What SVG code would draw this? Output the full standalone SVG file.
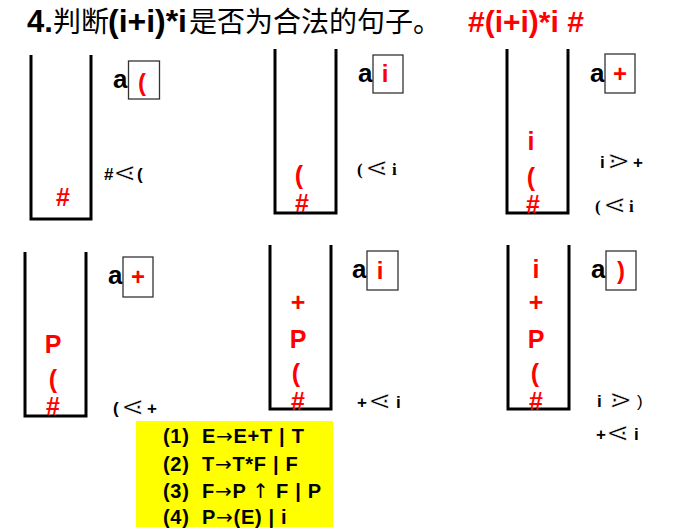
<svg xmlns="http://www.w3.org/2000/svg" width="687" height="530" viewBox="0 0 687 530">
<style>
.bg{fill:#fff}
.wall{fill:none;stroke:#000;stroke-width:3}
.box{fill:none;stroke:#333;stroke-width:1.3}
.st{font-family:"Liberation Sans",Arial,sans-serif;font-weight:bold;font-size:25px;fill:#f00;text-anchor:middle}
.bx{font-family:"Liberation Sans",Arial,sans-serif;font-weight:bold;font-size:24px;fill:#f00;text-anchor:middle}
.a{font-family:"Liberation Sans",Arial,sans-serif;font-weight:bold;font-size:26px;fill:#000}
.rel{font-family:"Liberation Sans",Arial,sans-serif;font-weight:bold;font-size:17px;fill:#000}
.rels{font-family:"Liberation Serif","Times New Roman",serif;font-weight:bold;font-size:17px;fill:#000}
.sym{font-family:"DejaVu Sans",sans-serif;font-weight:normal;font-size:28px;fill:#000;stroke:#fff;stroke-width:0.7px}
.thin{font-weight:normal}
.t{font-family:"Liberation Sans",Arial,sans-serif;font-weight:bold;font-size:31px;fill:#000}
.cjk{font-family:"Noto Sans CJK SC","Noto Sans",sans-serif;font-weight:normal;font-size:28px}
.red{fill:#f00;font-size:30px}
.g{font-family:"Liberation Sans",Arial,sans-serif;font-weight:bold;font-size:20px;fill:#000;letter-spacing:0.7px}
.ar{font-family:"DejaVu Sans",sans-serif;font-weight:normal;fill:#000}
</style>
<rect class="bg" x="0" y="0" width="687" height="530"/>

<g id="title">
<text class="t" y="32"><tspan x="27">4.</tspan><tspan class="cjk" x="53">判断</tspan><tspan x="108" textLength="79" lengthAdjust="spacingAndGlyphs">(i+i)*i</tspan><tspan class="cjk" x="189">是否为合法的句子。</tspan><tspan class="red" x="468">#(i+i)*i #</tspan></text>
</g>

<g id="step1">
<path class="wall" d="M31,55 V219 H91 V55"/>
<text class="st" x="63" y="206">#</text>
<text class="a" x="113" y="88">a</text>
<rect class="box" x="128.5" y="61" width="31" height="38"/>
<text class="bx" x="142" y="91">(</text>
<text class="rel" y="180"><tspan x="104">#</tspan><tspan class="sym" x="113" dy="2">⋖</tspan><tspan x="137" dy="-2">(</tspan></text>
</g>

<g id="step2">
<path class="wall" d="M275,49 V213 H336 V49"/>
<text class="st" x="299" y="184">(</text>
<text class="st" x="302" y="212">#</text>
<text class="a" x="358" y="82">a</text>
<rect class="box" x="373" y="55" width="30" height="38"/>
<text class="bx" x="385" y="82">i</text>
<text class="rels" y="175"><tspan x="357">(</tspan><tspan class="sym" x="365" dy="2">⋖</tspan><tspan x="392" dy="-2">i</tspan></text>
</g>

<g id="step3">
<path class="wall" d="M507,49 V213 H568 V49"/>
<text class="st" x="531" y="150">i</text>
<text class="st" x="531" y="186">(</text>
<text class="st" x="533" y="213">#</text>
<text class="a" x="590" y="82">a</text>
<rect class="box" x="605" y="54" width="30" height="39"/>
<text class="bx" x="620" y="82">+</text>
<text class="rel" y="168"><tspan x="600">i</tspan><tspan class="sym" x="607" dy="2">⋗</tspan><tspan x="633" dy="-2">+</tspan></text>
<text class="rels" y="212"><tspan x="595">(</tspan><tspan class="sym" x="603" dy="2">⋖</tspan><tspan x="629" dy="-2">i</tspan></text>
</g>

<g id="step4">
<path class="wall" d="M25,252 V416 H86 V252"/>
<text class="st" x="53" y="353">P</text>
<text class="st" x="53" y="388">(</text>
<text class="st" x="53" y="415">#</text>
<text class="a" x="108" y="284">a</text>
<rect class="box" x="123" y="257" width="30" height="40"/>
<text class="bx" x="138" y="285">+</text>
<text class="rel" y="414"><tspan x="113">(</tspan><tspan class="sym" x="121" dy="2">⋖</tspan><tspan x="147" dy="-2">+</tspan></text>
</g>

<g id="step5">
<path class="wall" d="M270,245 V409 H331 V245"/>
<text class="st" x="298" y="311">+</text>
<text class="st" x="298" y="348">P</text>
<text class="st" x="296" y="382">(</text>
<text class="st" x="298" y="410">#</text>
<text class="a" x="352" y="278">a</text>
<rect class="box" x="367" y="251" width="31" height="39"/>
<text class="bx" x="380" y="279">i</text>
<text class="rel" y="408"><tspan x="357">+</tspan><tspan class="sym" x="368" dy="2">⋖</tspan><tspan x="396" dy="-2">i</tspan></text>
</g>

<g id="step6">
<path class="wall" d="M508,245 V409 H569 V245"/>
<text class="st" x="536" y="278">i</text>
<text class="st" x="536" y="311">+</text>
<text class="st" x="536" y="348">P</text>
<text class="st" x="535" y="382">(</text>
<text class="st" x="536" y="410">#</text>
<text class="a" x="591" y="278">a</text>
<rect class="box" x="606" y="251" width="30" height="39"/>
<text class="bx" x="621" y="279">)</text>
<text class="rel" y="407"><tspan x="597">i</tspan><tspan class="sym" x="609" dy="2">⋗</tspan><tspan class="thin" x="637" dy="-2">)</tspan></text>
<text class="rel" y="440"><tspan x="596">+</tspan><tspan class="sym" x="606" dy="2">⋖</tspan><tspan x="634" dy="-2">i</tspan></text>
</g>

<g id="grammar">
<rect x="136" y="421" width="197" height="106" fill="#ff0"/>
<text class="g" y="443"><tspan x="163">(1)</tspan><tspan x="202">E<tspan class="ar">→</tspan>E+T | T</tspan></text>
<text class="g" y="471"><tspan x="163">(2)</tspan><tspan x="202">T<tspan class="ar">→</tspan>T*F | F</tspan></text>
<text class="g" y="498"><tspan x="163">(3)</tspan><tspan x="202">F<tspan class="ar">→</tspan>P <tspan class="ar">↑</tspan> F | P</tspan></text>
<text class="g" y="524"><tspan x="163">(4)</tspan><tspan x="202">P<tspan class="ar">→</tspan>(E) | i</tspan></text>
</g>

<g id="connectors"></g>
</svg>
